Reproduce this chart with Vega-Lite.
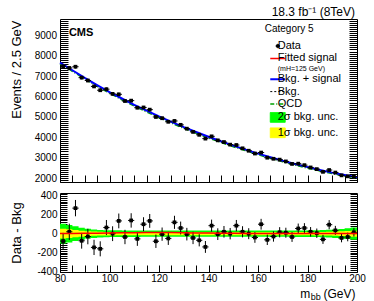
{
"$schema": "https://vega.github.io/schema/vega-lite/v6.json",
"background": "white",
"padding": {"left": 10, "top": 5, "right": 2, "bottom": 2},
"config": {
  "font": "Liberation Sans",
  "view": {"stroke": "black", "strokeWidth": 1},
  "axis": {"domain": false, "grid": false, "tickColor": "black", "tickWidth": 1, "labelColor": "black", "titleColor": "black", "labelFont": "Liberation Sans", "titleFont": "Liberation Sans", "labelFontSize": 10, "titleFontWeight": "normal", "labelOverlap": false},
  "title": {"color": "black", "font": "Liberation Sans"}
},
"datasets": {
  "pts": [
    {"m":81.25,"n":7482,"r":-78,"e":86.5,"xe":1.25},
    {"m":83.75,"n":7395,"r":20,"e":86.0,"xe":1.25},
    {"m":86.25,"n":7455,"r":270,"e":86.3,"xe":1.25},
    {"m":88.75,"n":6920,"r":-75,"e":83.2,"xe":1.25},
    {"m":91.25,"n":6780,"r":-30,"e":82.3,"xe":1.25},
    {"m":93.75,"n":6490,"r":-145,"e":80.6,"xe":1.25},
    {"m":96.25,"n":6302,"r":-160,"e":79.4,"xe":1.25},
    {"m":98.75,"n":6355,"r":65,"e":79.7,"xe":1.25},
    {"m":101.25,"n":6125,"r":0,"e":78.3,"xe":1.25},
    {"m":103.75,"n":6102,"r":135,"e":78.1,"xe":1.25},
    {"m":106.25,"n":5775,"r":-35,"e":76.0,"xe":1.25},
    {"m":108.75,"n":5793,"r":140,"e":76.1,"xe":1.25},
    {"m":111.25,"n":5446,"r":-55,"e":73.8,"xe":1.25},
    {"m":113.75,"n":5458,"r":100,"e":73.9,"xe":1.25},
    {"m":116.25,"n":5351,"r":135,"e":73.2,"xe":1.25},
    {"m":118.75,"n":4993,"r":-80,"e":70.7,"xe":1.25},
    {"m":121.25,"n":4932,"r":-5,"e":70.2,"xe":1.25},
    {"m":123.75,"n":4757,"r":-50,"e":69.0,"xe":1.25},
    {"m":126.25,"n":4797,"r":120,"e":69.3,"xe":1.25},
    {"m":128.75,"n":4607,"r":60,"e":67.9,"xe":1.25},
    {"m":131.25,"n":4418,"r":-5,"e":66.5,"xe":1.25},
    {"m":133.75,"n":4261,"r":-45,"e":65.3,"xe":1.25},
    {"m":136.25,"n":4118,"r":-70,"e":64.2,"xe":1.25},
    {"m":138.75,"n":3931,"r":-140,"e":62.7,"xe":1.25},
    {"m":141.25,"n":4043,"r":85,"e":63.6,"xe":1.25},
    {"m":143.75,"n":3846,"r":-5,"e":62.0,"xe":1.25},
    {"m":146.25,"n":3763,"r":20,"e":61.3,"xe":1.25},
    {"m":148.75,"n":3636,"r":0,"e":60.3,"xe":1.25},
    {"m":151.25,"n":3618,"r":85,"e":60.1,"xe":1.25},
    {"m":153.75,"n":3456,"r":20,"e":58.8,"xe":1.25},
    {"m":156.25,"n":3338,"r":0,"e":57.8,"xe":1.25},
    {"m":158.75,"n":3201,"r":-40,"e":56.6,"xe":1.25},
    {"m":161.25,"n":3248,"r":100,"e":57.0,"xe":1.25},
    {"m":163.75,"n":2996,"r":-65,"e":54.7,"xe":1.25},
    {"m":166.25,"n":2943,"r":-30,"e":54.2,"xe":1.25},
    {"m":168.75,"n":2901,"r":15,"e":53.9,"xe":1.25},
    {"m":171.25,"n":2813,"r":10,"e":53.0,"xe":1.25},
    {"m":173.75,"n":2691,"r":-35,"e":51.9,"xe":1.25},
    {"m":176.25,"n":2703,"r":55,"e":52.0,"xe":1.25},
    {"m":178.75,"n":2631,"r":60,"e":51.3,"xe":1.25},
    {"m":181.25,"n":2518,"r":20,"e":50.2,"xe":1.25},
    {"m":183.75,"n":2436,"r":5,"e":49.4,"xe":1.25},
    {"m":186.25,"n":2303,"r":-60,"e":48.0,"xe":1.25},
    {"m":188.75,"n":2391,"r":95,"e":48.9,"xe":1.25},
    {"m":191.25,"n":2268,"r":35,"e":47.6,"xe":1.25},
    {"m":193.75,"n":2131,"r":-45,"e":46.2,"xe":1.25},
    {"m":196.25,"n":2083,"r":-35,"e":45.6,"xe":1.25},
    {"m":198.75,"n":2076,"r":15,"e":45.6,"xe":1.25}
  ],
  "curve": [
    {"m":80,"b":7650,"sb":7652,"q":7600,"sig":2},
    {"m":85,"b":7280,"sb":7283,"q":7230,"sig":3},
    {"m":90,"b":6902,"sb":6906,"q":6852,"sig":4},
    {"m":95,"b":6548,"sb":6553,"q":6498,"sig":5},
    {"m":100,"b":6207,"sb":6214,"q":6157,"sig":7},
    {"m":105,"b":5888,"sb":5897,"q":5838,"sig":9},
    {"m":110,"b":5577,"sb":5588,"q":5527,"sig":11},
    {"m":115,"b":5287,"sb":5300,"q":5237,"sig":13},
    {"m":120,"b":5005,"sb":5018,"q":4955,"sig":13},
    {"m":125,"b":4742,"sb":4754,"q":4692,"sig":12},
    {"m":130,"b":4485,"sb":4495,"q":4435,"sig":10},
    {"m":135,"b":4247,"sb":4255,"q":4197,"sig":8},
    {"m":140,"b":4014,"sb":4020,"q":3964,"sig":6},
    {"m":145,"b":3797,"sb":3801.5,"q":3747,"sig":4.5},
    {"m":150,"b":3584,"sb":3587.5,"q":3534,"sig":3.5},
    {"m":155,"b":3387,"sb":3390,"q":3337,"sig":3},
    {"m":160,"b":3194,"sb":3196.5,"q":3144,"sig":2.5},
    {"m":165,"b":3017,"sb":3019,"q":2967,"sig":2},
    {"m":170,"b":2844,"sb":2846,"q":2794,"sig":2},
    {"m":175,"b":2687,"sb":2688.5,"q":2637,"sig":1.5},
    {"m":180,"b":2534,"sb":2535.5,"q":2484,"sig":1.5},
    {"m":185,"b":2397,"sb":2398,"q":2347,"sig":1},
    {"m":190,"b":2264,"sb":2265,"q":2214,"sig":1},
    {"m":195,"b":2147,"sb":2148,"q":2097,"sig":1},
    {"m":200,"b":2032,"sb":2033,"q":1982,"sig":1}
  ],
  "band": [
    {"m":80,"g1":-104,"g2":104,"y1":-52,"y2":52},
    {"m":82.5,"g1":-92,"g2":92,"y1":-46,"y2":46},
    {"m":85,"g1":-78,"g2":78,"y1":-39,"y2":39},
    {"m":87.5,"g1":-64,"g2":64,"y1":-32,"y2":32},
    {"m":90,"g1":-52,"g2":52,"y1":-26,"y2":26},
    {"m":92.5,"g1":-45,"g2":45,"y1":-22,"y2":22},
    {"m":95,"g1":-40,"g2":40,"y1":-20,"y2":20},
    {"m":97.5,"g1":-37,"g2":37,"y1":-18,"y2":18},
    {"m":100,"g1":-36,"g2":36,"y1":-18,"y2":18},
    {"m":102.5,"g1":-35,"g2":35,"y1":-17,"y2":17},
    {"m":105,"g1":-34,"g2":34,"y1":-17,"y2":17},
    {"m":107.5,"g1":-34,"g2":34,"y1":-17,"y2":17},
    {"m":110,"g1":-34,"g2":34,"y1":-17,"y2":17},
    {"m":112.5,"g1":-33,"g2":33,"y1":-16,"y2":16},
    {"m":115,"g1":-33,"g2":33,"y1":-16,"y2":16},
    {"m":117.5,"g1":-33,"g2":33,"y1":-16,"y2":16},
    {"m":120,"g1":-33,"g2":33,"y1":-16,"y2":16},
    {"m":122.5,"g1":-33,"g2":33,"y1":-16,"y2":16},
    {"m":125,"g1":-33,"g2":33,"y1":-16,"y2":16},
    {"m":127.5,"g1":-33,"g2":33,"y1":-16,"y2":16},
    {"m":130,"g1":-33,"g2":33,"y1":-16,"y2":16},
    {"m":132.5,"g1":-33,"g2":33,"y1":-16,"y2":16},
    {"m":135,"g1":-33,"g2":33,"y1":-16,"y2":16},
    {"m":137.5,"g1":-33,"g2":33,"y1":-16,"y2":16},
    {"m":140,"g1":-33,"g2":33,"y1":-16,"y2":16},
    {"m":142.5,"g1":-33,"g2":33,"y1":-16,"y2":16},
    {"m":145,"g1":-33,"g2":33,"y1":-16,"y2":16},
    {"m":147.5,"g1":-33,"g2":33,"y1":-16,"y2":16},
    {"m":150,"g1":-33,"g2":33,"y1":-16,"y2":16},
    {"m":152.5,"g1":-33,"g2":33,"y1":-16,"y2":16},
    {"m":155,"g1":-33,"g2":33,"y1":-16,"y2":16},
    {"m":157.5,"g1":-33,"g2":33,"y1":-16,"y2":16},
    {"m":160,"g1":-33,"g2":33,"y1":-16,"y2":16},
    {"m":162.5,"g1":-33,"g2":33,"y1":-16,"y2":16},
    {"m":165,"g1":-33,"g2":33,"y1":-16,"y2":16},
    {"m":167.5,"g1":-33,"g2":33,"y1":-16,"y2":16},
    {"m":170,"g1":-33,"g2":33,"y1":-16,"y2":16},
    {"m":172.5,"g1":-33,"g2":33,"y1":-16,"y2":16},
    {"m":175,"g1":-34,"g2":34,"y1":-17,"y2":17},
    {"m":177.5,"g1":-34,"g2":34,"y1":-17,"y2":17},
    {"m":180,"g1":-35,"g2":35,"y1":-17,"y2":17},
    {"m":182.5,"g1":-36,"g2":36,"y1":-18,"y2":18},
    {"m":185,"g1":-38,"g2":38,"y1":-19,"y2":19},
    {"m":187.5,"g1":-41,"g2":41,"y1":-20,"y2":20},
    {"m":190,"g1":-45,"g2":45,"y1":-22,"y2":22},
    {"m":192.5,"g1":-50,"g2":50,"y1":-25,"y2":25},
    {"m":195,"g1":-57,"g2":57,"y1":-28,"y2":28},
    {"m":197.5,"g1":-65,"g2":65,"y1":-32,"y2":32},
    {"m":200,"g1":-65,"g2":65,"y1":-32,"y2":32}
  ]
},
"spacing": 2,
"vconcat": [
  {
    "width": 297, "height": 163,
    "resolve": {"scale": {"y": "independent"}, "axis": {"x": "independent"}},
    "layer": [
      {
        "data": {"name": "curve"},
        "mark": {"type": "line", "stroke": "black", "strokeWidth": 1, "strokeDash": [3, 2]},
        "encoding": {
          "x": {"field": "m", "type": "quantitative", "title": null, "scale": {"domain": [80, 200], "nice": false, "zero": false}, "axis": null},
          "y": {"field": "b", "type": "quantitative", "title": null, "scale": {"domain": [1805, 9794], "nice": false, "zero": false},
                "axis": {"orient": "right", "values": [1900,2000,2100,2200,2300,2400,2500,2600,2700,2800,2900,3000,3100,3200,3300,3400,3500,3600,3700,3800,3900,4000,4100,4200,4300,4400,4500,4600,4700,4800,4900,5000,5100,5200,5300,5400,5500,5600,5700,5800,5900,6000,6100,6200,6300,6400,6500,6600,6700,6800,6900,7000,7100,7200,7300,7400,7500,7600,7700,7800,7900,8000,8100,8200,8300,8400,8500,8600,8700,8800,8900,9000,9100,9200,9300,9400,9500,9600,9700],
                         "labels": false, "title": null, "tickSize": -8,
                         "encode": {"ticks": {"update": {"x2": {"signal": "datum.value % 1000 === 0 ? -8 : -4"}}}}}}
        }
      },
      {
        "resolve": {"axis": {"y": "independent"}},
        "encoding": {
          "x": {"field": "m", "type": "quantitative", "title": null, "scale": {"domain": [80, 200], "nice": false, "zero": false},
                "axis": {"orient": "bottom", "values": [80,85,90,95,100,105,110,115,120,125,130,135,140,145,150,155,160,165,170,175,180,185,190,195,200], "labels": false, "title": null, "tickSize": -7,
                         "encode": {"ticks": {"update": {"y2": {"signal": "datum.value % 20 === 0 ? -7 : -3.5"}}}}}}
        },
        "layer": [
          {
            "data": {"name": "curve"},
            "mark": {"type": "line", "strokeWidth": 1.5, "strokeDash": [5, 2, 1, 2]},
            "encoding": {
              "y": {"field": "q", "type": "quantitative", "title": "Events / 2.5 GeV", "scale": {"domain": [1805, 9794], "nice": false, "zero": false},
                    "axis": {"orient": "left", "values": [1900,2000,2100,2200,2300,2400,2500,2600,2700,2800,2900,3000,3100,3200,3300,3400,3500,3600,3700,3800,3900,4000,4100,4200,4300,4400,4500,4600,4700,4800,4900,5000,5100,5200,5300,5400,5500,5600,5700,5800,5900,6000,6100,6200,6300,6400,6500,6600,6700,6800,6900,7000,7100,7200,7300,7400,7500,7600,7700,7800,7900,8000,8100,8200,8300,8400,8500,8600,8700,8800,8900,9000,9100,9200,9300,9400,9500,9600,9700],
                             "labelExpr": "datum.value % 1000 === 0 ? '' + datum.value : ''", "tickSize": -8, "labelPadding": 11.5, "labelOverlap": false,
                             "title": "Events / 2.5 GeV", "titleFontSize": 13, "titleAlign": "right", "titleBaseline": "alphabetic", "titleAngle": 270, "titleX": -39.5, "titleY": 1,
                             "encode": {"ticks": {"update": {"x2": {"signal": "datum.value % 1000 === 0 ? 8 : 4"}}},
                                        "labels": {"update": {"fontSize": {"signal": "datum.value % 1000 === 0 ? 10 : 0"}}}}}},
              "color": {"datum": "QCD", "type": "nominal",
                        "scale": {"domain": ["Data", "Fitted signal", "(mH=125 GeV)", "Bkg. + signal", "Bkg.", "QCD", "2σ bkg. unc.", "1σ bkg. unc."],
                                  "range": ["black", "#ff0000", "white", "#0000ff", "black", "#00a000", "#00ff00", "#ffff00"]},
                        "legend": {"title": "Category 5", "orient": "none", "legendX": 204.75, "legendY": 5.4, "padding": 0,
                                   "titleFontSize": 10, "titleFontWeight": "normal", "titleColor": "black", "titlePadding": 11.6,
                                   "labelFontSize": 11, "labelColor": "black", "labelOffset": 7.75, "labelLimit": 300,
                                   "symbolSize": 56, "rowPadding": 1.4,
                                   "encode": {
                                     "symbols": {"update": {
                                       "shape": {"signal": "['M0.44,0A0.44,0.44,0,1,1,-0.44,0A0.44,0.44,0,1,1,0.44,0Z','M-2,0H2','M-2,0H2','M-2,0H2','M-2,0H2','M-2,0H2','M-2,-1.3H2V1.3H-2Z','M-2,-1.3H2V1.3H-2Z'][datum.index]"},
                                       "fill": {"signal": "['black','transparent','transparent','transparent','transparent','transparent','#00ff00','#ffff00'][datum.index]"},
                                       "stroke": {"signal": "['black','#ff0000','transparent','#0000ff','black','#00a000','black','black'][datum.index]"},
                                       "strokeWidth": {"signal": "[1,1.5,0,2,1,1.5,1,1][datum.index]"},
                                       "strokeDash": {"signal": "[[1,0],[1,0],[1,0],[1,0],[2,2],[4,2,1,2],[1,0],[1,0]][datum.index]"},
                                       "opacity": {"value": 1}
                                     }},
                                     "labels": {"update": {"fontSize": {"signal": "datum.index === 2 ? 7 : 11"}}},
                                     "title": {"update": {"dx": {"value": -13}}}
                                   }}}
            }
          },
          {
            "data": {"name": "curve"},
            "mark": {"type": "line", "strokeWidth": 2},
            "encoding": {
              "y": {"field": "sb", "type": "quantitative", "scale": {"domain": [1805, 9794], "nice": false, "zero": false}, "axis": null},
              "color": {"datum": "Bkg. + signal", "type": "nominal",
                        "scale": {"domain": ["Data", "Fitted signal", "(mH=125 GeV)", "Bkg. + signal", "Bkg.", "QCD", "2σ bkg. unc.", "1σ bkg. unc."],
                                  "range": ["black", "#ff0000", "white", "#0000ff", "black", "#00a000", "#00ff00", "#ffff00"]}}
            }
          },
          {
            "data": {"name": "pts"},
            "mark": {"type": "errorbar", "color": "black", "thickness": 1},
            "encoding": {
              "y": {"field": "n", "type": "quantitative", "scale": {"domain": [1805, 9794], "nice": false, "zero": false}, "axis": null},
              "yError": {"field": "e"}
            }
          },
          {
            "data": {"name": "pts"},
            "mark": {"type": "errorbar", "color": "black", "thickness": 1},
            "encoding": {
              "y": {"field": "n", "type": "quantitative", "scale": {"domain": [1805, 9794], "nice": false, "zero": false}, "axis": null},
              "xError": {"field": "xe"}
            }
          },
          {
            "data": {"name": "pts"},
            "mark": {"type": "point", "shape": "square", "filled": true, "color": "black", "size": 14, "opacity": 1},
            "encoding": {
              "y": {"field": "n", "type": "quantitative", "scale": {"domain": [1805, 9794], "nice": false, "zero": false}, "axis": null}
            }
          }
        ]
      },
      {
        "data": {"values": [{}]},
        "mark": {"type": "text", "text": "CMS", "fontWeight": "bold", "fontSize": 11, "align": "left", "baseline": "alphabetic", "color": "black"},
        "encoding": {
          "x": {"datum": 83.6, "type": "quantitative", "axis": null},
          "y": {"datum": 8961, "type": "quantitative", "scale": {"domain": [1805, 9794], "nice": false, "zero": false}, "axis": null}
        }
      },
      {
        "data": {"values": [{}]},
        "mark": {"type": "text", "text": "18.3 fb⁻¹ (8TeV)", "fontSize": 12, "align": "right", "baseline": "alphabetic", "color": "black"},
        "encoding": {
          "x": {"datum": 199.2, "type": "quantitative", "axis": null},
          "y": {"datum": 9956, "type": "quantitative", "scale": {"domain": [1805, 9794], "nice": false, "zero": false}, "axis": null}
        }
      }
    ]
  },
  {
    "width": 297, "height": 79,
    "resolve": {"scale": {"y": "independent"}, "axis": {"x": "independent"}},
    "layer": [
      {
        "resolve": {"axis": {"y": "independent"}},
        "encoding": {
          "x": {"field": "m", "type": "quantitative", "title": "m\u00a0\u00a0\u00a0\u00a0(GeV)", "scale": {"domain": [80, 200], "nice": false, "zero": false},
                "axis": {"orient": "bottom", "values": [80,85,90,95,100,105,110,115,120,125,130,135,140,145,150,155,160,165,170,175,180,185,190,195,200],
                         "labelExpr": "datum.value % 20 === 0 ? '' + datum.value : ''", "labelFlush": false, "labelOverlap": false, "tickSize": -7, "labelPadding": 8,
                         "title": "m\u00a0\u00a0\u00a0\u00a0(GeV)", "titleFontSize": 12, "titleAlign": "right", "titleBaseline": "alphabetic", "titleX": 295, "titleY": 25.2,
                         "encode": {"ticks": {"update": {"y2": {"signal": "datum.value % 20 === 0 ? -7 : -3.5"}}},
                                    "labels": {"update": {"fontSize": {"signal": "datum.value % 20 === 0 ? 10 : 0"}}}}}}
        },
        "layer": [
          {
            "data": {"name": "band"},
            "mark": {"type": "area", "interpolate": "step-after", "color": "#00ff00", "opacity": 1},
            "encoding": {
              "y": {"field": "g1", "type": "quantitative", "title": "Data - Bkg", "scale": {"domain": [-405, 430], "nice": false, "zero": false},
                    "axis": {"orient": "left", "values": [-400,-380,-360,-340,-320,-300,-280,-260,-240,-220,-200,-180,-160,-140,-120,-100,-80,-60,-40,-20,0,20,40,60,80,100,120,140,160,180,200,220,240,260,280,300,320,340,360,380,400,420],
                             "labelExpr": "datum.value % 200 === 0 ? '' + datum.value : ''", "tickSize": -7, "labelPadding": 10, "labelOverlap": false,
                             "title": "Data - Bkg", "titleFontSize": 13, "titleBaseline": "alphabetic", "titleAngle": 270, "titleX": -39.5,
                             "encode": {"ticks": {"update": {"x2": {"signal": "datum.value % 200 === 0 ? 7 : 3.5"}}},
                                        "labels": {"update": {"fontSize": {"signal": "datum.value % 200 === 0 ? 10 : 0"}}}}}},
              "y2": {"field": "g2"}
            }
          },
          {
            "data": {"name": "band"},
            "mark": {"type": "area", "interpolate": "step-after", "color": "#ffff00", "opacity": 1},
            "encoding": {
              "y": {"field": "y1", "type": "quantitative", "scale": {"domain": [-405, 430], "nice": false, "zero": false}, "axis": null},
              "y2": {"field": "y2"}
            }
          },
          {
            "data": {"name": "pts"},
            "mark": {"type": "errorbar", "color": "black", "thickness": 1},
            "encoding": {
              "y": {"field": "r", "type": "quantitative", "scale": {"domain": [-405, 430], "nice": false, "zero": false}, "axis": null},
              "yError": {"field": "e"}
            }
          },
          {
            "data": {"name": "pts"},
            "mark": {"type": "errorbar", "color": "black", "thickness": 1},
            "encoding": {
              "y": {"field": "r", "type": "quantitative", "scale": {"domain": [-405, 430], "nice": false, "zero": false}, "axis": null},
              "xError": {"field": "xe"}
            }
          },
          {
            "data": {"name": "pts"},
            "mark": {"type": "point", "shape": "square", "filled": true, "color": "black", "size": 14, "opacity": 1},
            "encoding": {
              "y": {"field": "r", "type": "quantitative", "scale": {"domain": [-405, 430], "nice": false, "zero": false}, "axis": null}
            }
          }
        ]
      },
      {
        "data": {"name": "curve"},
        "mark": {"type": "line", "stroke": "#ff0000", "strokeWidth": 1.5},
        "encoding": {
          "x": {"field": "m", "type": "quantitative", "scale": {"domain": [80, 200], "nice": false, "zero": false}, "axis": null},
          "y": {"field": "sig", "type": "quantitative", "scale": {"domain": [-405, 430], "nice": false, "zero": false},
                "axis": {"orient": "right", "values": [-400,-380,-360,-340,-320,-300,-280,-260,-240,-220,-200,-180,-160,-140,-120,-100,-80,-60,-40,-20,0,20,40,60,80,100,120,140,160,180,200,220,240,260,280,300,320,340,360,380,400,420],
                         "labels": false, "title": null, "tickSize": -7,
                         "encode": {"ticks": {"update": {"x2": {"signal": "datum.value % 200 === 0 ? -7 : -3.5"}}}}}}
        }
      },
      {
        "data": {"values": [{}]},
        "mark": {"type": "text", "text": "bb", "fontSize": 9, "align": "left", "baseline": "alphabetic", "color": "black"},
        "encoding": {
          "x": {"datum": 181.3, "type": "quantitative", "axis": null},
          "y": {"datum": -700, "type": "quantitative", "scale": {"domain": [-405, 430], "nice": false, "zero": false}, "axis": null}
        }
      }
    ]
  }
]
}
